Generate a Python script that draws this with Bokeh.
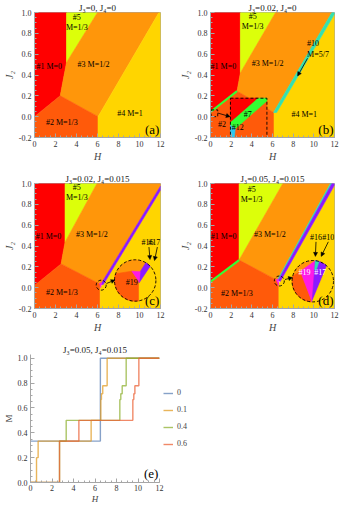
import numpy as np
from bokeh.plotting import figure
from bokeh.layouts import row, column
from bokeh.models import (Range1d, FixedTicker, PrintfTickFormatter, Label, Arrow,
                          NormalHead, Legend, LegendItem)
from bokeh.embed import file_html
from bokeh.resources import INLINE

FONT = "Liberation Serif"

# ---------------- data ----------------
H_TICKS = [0, 2, 4, 6, 8, 10, 12]
J2_TICKS = [-0.2, 0.0, 0.2, 0.4, 0.6, 0.8, 1.0]
M_TICKS = [0.0, 0.2, 0.4, 0.6, 0.8, 1.0]

C1, C2, C3, C4, C5 = "#FF0000", "#FF5A0A", "#FF960A", "#FFD500", "#DCFF0A"
C7, C10, C12, C17, C19 = "#33FF33", "#33E0B0", "#2CC8F0", "#8B1AFF", "#FF1AE6"

# panel (a)  J3=0, J4=0
A_TITLE = "J₃=0, J₄=0"
A_R1_H = [0, 3.05, 3.05, 2.45, 0];        A_R1_J = [1.0, 1.0, 0.52, 0.20, 0.0]
A_R5_H = [3.05, 6.0, 3.05];               A_R5_J = [1.0, 1.0, 0.52]
A_R3_H = [6.0, 11.85, 6.05, 2.45, 3.05];  A_R3_J = [1.0, 1.0, 0.0, 0.20, 0.52]
A_R2_H = [0, 2.45, 6.05, 6.05, 0];        A_R2_J = [0.0, 0.20, 0.0, -0.2, -0.2]
A_R4_H = [6.05, 11.85, 12, 12, 6.05];     A_R4_J = [0.0, 1.0, 1.0, -0.2, -0.2]
A_TEXT = [("#1 M=0", 1.4, 0.485), ("#5", 4.03, 0.95), ("M=1/3", 4.03, 0.853),
          ("#3 M=1/2", 5.62, 0.50), ("#2 M=1/3", 2.6, -0.06), ("#4 M=1", 9.1, 0.028)]

# panel (b)  J3=0.02, J4=0
B_TITLE = "J₃=0.02, J₄=0"
B_R1_H = [0, 2.89, 2.89, 2.57, 0];         B_R1_J = [1.0, 1.0, 0.42, 0.245, 0.045]
B_R5_H = [2.89, 6.3, 2.89];                B_R5_J = [1.0, 1.0, 0.42]
B_R3_H = [6.3, 11.75, 6.1, 2.57, 2.89];    B_R3_J = [1.0, 1.0, 0.04, 0.245, 0.42]
B_R2_H = [0, 2.57, 6.1, 6.15, 6.15, 0];    B_R2_J = [0.045, 0.245, 0.04, 0.04, -0.2, -0.2]
B_R4_H = [6.15, 6.15, 6.4, 12, 12];        B_R4_J = [-0.2, 0.04, 0.04, 0.985, -0.2]
B_R10_H = [6.1, 6.4, 12, 12, 11.75];       B_R10_J = [0.04, 0.04, 0.985, 1.0, 1.0]
B_R7_H = [0, 2.57];                        B_R7_J = [0.045, 0.245]
B_BOX_H = [1.93, 5.46];                    B_BOX_J = [-0.2, 0.177]
B_SMALL_H = [0.06, 0.7];                   B_SMALL_J = [0.0, 0.065]
B_IN_R1_U = [0, 0.76, 0];                  B_IN_R1_V = [1, 1, 0.38]
B_IN_R7_U = [0.76, 1.0, 1.0, 0.13, 0.0, 0.0]; B_IN_R7_V = [1, 1, 0.93, 0.22, 0.32, 0.38]
B_IN_R12_U = [0, 0.13, 0.11, 0];           B_IN_R12_V = [0.32, 0.22, 0, 0]
B_TEXT = [("#1 M=0", 1.25, 0.485), ("#5", 4.08, 0.958), ("M=1/3", 4.08, 0.862),
          ("#3 M=1/2", 5.53, 0.506), ("#4 M=1", 9.07, 0.022), ("#2", 1.12, -0.075),
          ("#7", 3.6, 0.02), ("#12", 2.64, -0.107)]
B_TEXT_L = [("#10", 9.35, 0.70), ("M=5/7", 9.35, 0.60)]
B_ARROWS = [(9.39, 0.56, 8.43, 0.39), (0.7, 0.035, 1.9, 0.0)]

# panel (c)  J3=0.02, J4=0.015
C_TITLE = "J₃=0.02, J₄=0.015"
C_R1_H = [0, 2.91, 2.91, 2.53, 0];         C_R1_J = [1.0, 1.0, 0.437, 0.228, 0.02]
C_R5_H = [2.91, 5.95, 2.91];               C_R5_J = [1.0, 1.0, 0.437]
C_R3_H = [5.95, 12, 12, 6.3, 2.53, 2.91];  C_R3_J = [1.0, 1.0, 0.975, 0.03, 0.228, 0.437]
C_R2_H = [0, 2.53, 6.3, 6.25, 6.25, 0];    C_R2_J = [0.02, 0.228, 0.03, 0.01, -0.2, -0.2]
C_R4_H = [6.25, 6.25, 6.55, 12, 12];       C_R4_J = [-0.2, 0.01, 0.03, 0.935, -0.2]
C_R17_H = [6.3, 6.55, 12, 12];             C_R17_J = [0.03, 0.03, 0.935, 0.975]
C_R19_H = [6.2, 6.4, 6.3];                 C_R19_J = [0.045, 0.045, 0.0]
C_SMALL = (6.35, 0.024)
C_BIG = (9.59, 0.069)
C_IN_R2 = [("a", 161, 281), ("p", 0.19, -0.06), ("p", -0.16, 0.45)]
C_IN_R4 = [("a", 281, 403.7), ("p", 0.19, -0.11)]
C_IN_R17 = [("a", 43.7, 59), ("p", 0.24, 0.42), ("p", 0.19, -0.06), ("p", 0.19, -0.11)]
C_IN_R19 = [("p", -0.16, 0.45), ("p", 0.24, 0.42), ("p", 0.19, -0.06)]
C_TEXT = [("#1 M=0", 1.33, 0.494), ("#5", 4.03, 0.964), ("M=1/3", 4.03, 0.863),
          ("#3 M=1/2", 5.46, 0.51), ("#2 M=1/3", 2.6, -0.05), ("#19", 9.27, 0.047),
          ("#16", 10.75, 0.434)]
C_TEXT_R = [("#17", 11.98, 0.434)]
C_ARROWS = [(6.86, 0.04, 7.67, 0.074), (10.9, 0.39, 11.0, 0.27), (11.7, 0.39, 11.43, 0.26)]

# panel (d)  J3=0.05, J4=0.015
D_TITLE = "J₃=0.05, J₄=0.015"
D_R1_H = [0, 2.77, 2.77, 0];                 D_R1_J = [1.0, 1.0, 0.265, 0.057]
D_R5_H = [2.77, 7.0, 2.77];                  D_R5_J = [1.0, 1.0, 0.265]
D_R3_H = [7.0, 11.6, 6.45, 2.77];            D_R3_J = [1.0, 1.0, 0.07, 0.265]
D_R2_H = [0, 2.77, 6.45, 6.62, 6.62, 0];     D_R2_J = [0.057, 0.265, 0.07, 0.04, -0.2, -0.2]
D_R4_H = [6.62, 6.62, 6.75, 12, 12];         D_R4_J = [-0.2, 0.04, 0.06, 0.985, -0.2]
D_R10_H = [6.45, 6.55, 11.75, 11.6];         D_R10_J = [0.07, 0.07, 1.0, 1.0]
D_R17_H = [6.55, 6.75, 12, 12, 11.75];       D_R17_J = [0.07, 0.06, 0.985, 1.0, 1.0]
D_R19_H = [6.35, 6.55, 6.6];                 D_R19_J = [0.08, 0.08, 0.02]
D_R7_H = [0, 2.77];                          D_R7_J = [0.057, 0.265]
D_SMALL = (6.66, 0.064)
D_BIG = (9.9, 0.062)
D_IN_R2 = [("a", 166, 268), ("p", -0.6, 0.48)]
D_IN_R19 = [("p", -0.6, 0.48), ("p", 0.12, 0.99), ("p", -0.035, -0.999)]
D_IN_R17 = [("a", 47, 83), ("p", -0.035, -0.999)]
D_IN_R4 = [("a", 268, 407)]
D_IN_R10 = [("p", 0.12, 0.99), ("p", 0.3, 0.95), ("p", 0.17, 0.55), ("p", 0.09, 0.55)]
D_TEXT = [("#1 M=0", 1.27, 0.494), ("#5", 3.98, 0.942), ("M=1/3", 3.98, 0.846),
          ("#3 M=1/2", 5.75, 0.51), ("#2 M=1/3", 2.55, -0.06), ("#16", 10.21, 0.486)]
D_TEXT_R = [("#10", 11.98, 0.486)]
D_TEXT_W = [("#19", 9.1, 0.143), ("#17", 10.63, 0.143)]
D_ARROWS = [(7.21, 0.078, 7.93, 0.098), (10.21, 0.44, 10.15, 0.30), (11.4, 0.44, 10.71, 0.30)]

# panel (e)  magnetisation curves, J3=0.05, J4=0.015
E_TITLE = "J₃=0.05, J₄=0.015"
E_LABELS = ["0", "0.1", "0.4", "0.6"]
E_COLORS = ["#5E81B5", "#E19C24", "#8FB032", "#EB6235"]
E0_H = [0, 6.5, 12];                                   E0_M = [0.333, 1.0, 1.0]
E1_H = [0, 0.56, 0.71, 5.64, 6.54, 6.6, 6.72, 7.13, 12]; E1_M = [0.0, 0.2, 0.333, 0.5, 0.667, 0.714, 0.778, 1.0, 1.0]
E2_H = [0, 2.7, 3.32, 8.31, 8.4, 8.53, 8.9, 12];        E2_M = [0.0, 0.333, 0.5, 0.667, 0.714, 0.778, 1.0, 1.0]
E3_H = [0, 2.7, 4.5, 9.52, 9.61, 9.71, 10.08, 12];      E3_M = [0.0, 0.333, 0.5, 0.667, 0.714, 0.778, 1.0, 1.0]

# ---------------- helpers ----------------
GRAY = "#A6A6A6"


def style_axis(ax, label, size="10px"):
    ax.axis_label = label
    ax.axis_line_color = GRAY
    ax.major_tick_line_color = GRAY
    ax.minor_tick_line_color = GRAY
    ax.major_tick_in = 4
    ax.major_tick_out = 0
    ax.minor_tick_in = 2
    ax.minor_tick_out = 0
    ax.major_label_text_font = FONT
    ax.major_label_text_font_size = "8px"
    ax.major_label_text_color = "#333333"
    ax.major_label_standoff = 3
    ax.axis_label_text_font = FONT
    ax.axis_label_text_font_size = size
    ax.axis_label_text_font_style = "italic"
    ax.axis_label_standoff = 1


def set_title(p, text):
    p.title.text = text
    p.title.text_font = FONT
    p.title.text_font_size = "9px"
    p.title.text_font_style = "normal"
    p.title.text_color = "#222222"
    p.title.align = "center"
    p.title.standoff = 0
    p.title.offset = 0


def phase_fig(title, fw, bl, br, bt, bb):
    p = figure(frame_width=fw, frame_height=125, x_range=Range1d(0, 12), y_range=Range1d(-0.2, 1.0),
               min_border_left=bl, min_border_right=br, min_border_top=bt, min_border_bottom=bb,
               toolbar_location=None, output_backend="svg")
    p.xgrid.grid_line_color = None
    p.ygrid.grid_line_color = None
    p.outline_line_color = GRAY
    p.xaxis.ticker = FixedTicker(ticks=H_TICKS, minor_ticks=[x / 2 for x in range(25)])
    p.yaxis.ticker = FixedTicker(ticks=J2_TICKS, minor_ticks=[-0.2 + k * 0.05 for k in range(25)])
    p.yaxis.formatter = PrintfTickFormatter(format="%.1f")
    style_axis(p.xaxis[0], "H")
    style_axis(p.yaxis[0], "J₂")
    set_title(p, title)
    return p


def regions(p, polys):
    xs = [r[0] for r in polys]
    ys = [r[1] for r in polys]
    cs = [r[2] for r in polys]
    p.patches(xs, ys, fill_color=cs, line_color=cs, line_width=0.6)


def texts(p, items, color="black", align="center", size="8px"):
    for t, x, y in items:
        p.add_layout(Label(x=x, y=y, text=t, text_font=FONT, text_font_size=size,
                           text_align=align, text_baseline="middle", text_color=color))


def arrows(p, items):
    for x0, y0, x1, y1 in items:
        p.add_layout(Arrow(end=NormalHead(size=4, line_color="black", fill_color="black", line_width=0.5),
                           x_start=x0, y_start=y0, x_end=x1, y_end=y1,
                           line_color="black", line_width=0.8))


def letter(p, t):
    p.add_layout(Label(x=11.9, y=-0.2, y_offset=1, text=t, text_font=FONT, text_font_size="13px",
                       text_align="right", text_baseline="bottom", text_color="black"))


def disk_poly(center, rx, ry, parts):
    cx, cy = center
    xs, ys = [], []
    for part in parts:
        if part[0] == "a":
            t = np.radians(np.linspace(part[1], part[2], 48))
            xs += list(cx + rx * np.cos(t))
            ys += list(cy + ry * np.sin(t))
        else:
            xs.append(cx + rx * part[1])
            ys.append(cy + ry * part[2])
    return xs, ys


def circle_inset(p, fw, small, big, layers, rpx=20.7):
    sx = fw / 12.0
    sy = 125 / 1.2
    rx, ry = rpx / sx, rpx / sy
    polys = [disk_poly(big, rx, ry, [("a", 0, 360)]) + (C3,)]
    for parts, col in layers:
        polys.append(disk_poly(big, rx, ry, parts) + (col,))
    regions(p, polys)
    p.circle(x=[small[0], big[0]], y=[small[1], big[1]], radius=[5, rpx], radius_units="screen",
             fill_alpha=0, line_color="black", line_dash="3 2", line_width=0.9)


# ---------------- panel (a) ----------------
pa = phase_fig(A_TITLE, 126, 28, 16, 10, 27)
regions(pa, [(A_R1_H, A_R1_J, C1), (A_R5_H, A_R5_J, C5), (A_R3_H, A_R3_J, C3),
             (A_R2_H, A_R2_J, C2), (A_R4_H, A_R4_J, C4)])
texts(pa, A_TEXT)
letter(pa, "(a)")

# ---------------- panel (b) ----------------
pb = phase_fig(B_TITLE, 124, 30, 13, 10, 27)
regions(pb, [(B_R1_H, B_R1_J, C1), (B_R5_H, B_R5_J, C5), (B_R3_H, B_R3_J, C3),
             (B_R2_H, B_R2_J, C2), (B_R4_H, B_R4_J, C4), (B_R10_H, B_R10_J, C10)])
pb.line(B_R7_H, B_R7_J, line_color=C7, line_width=2.2)


def box_map(u, v):
    return ([B_BOX_H[0] + a * (B_BOX_H[1] - B_BOX_H[0]) for a in u],
            [B_BOX_J[0] + b * (B_BOX_J[1] - B_BOX_J[0]) for b in v])


bx = [B_BOX_H[0], B_BOX_H[1], B_BOX_H[1], B_BOX_H[0]]
by = [B_BOX_J[0], B_BOX_J[0], B_BOX_J[1], B_BOX_J[1]]
regions(pb, [(bx, by, C2), box_map(B_IN_R1_U, B_IN_R1_V) + (C1,),
             box_map(B_IN_R7_U, B_IN_R7_V) + (C7,), box_map(B_IN_R12_U, B_IN_R12_V) + (C12,)])
pb.quad(left=[B_BOX_H[0], B_SMALL_H[0]], right=[B_BOX_H[1], B_SMALL_H[1]],
        bottom=[B_BOX_J[0], B_SMALL_J[0]], top=[B_BOX_J[1], B_SMALL_J[1]],
        fill_alpha=0, line_color="black", line_dash="3 2", line_width=0.9)
texts(pb, B_TEXT)
texts(pb, B_TEXT_L, align="left")
arrows(pb, B_ARROWS)
letter(pb, "(b)")

# ---------------- panel (c) ----------------
pc = phase_fig(C_TITLE, 126, 28, 16, 19, 25)
regions(pc, [(C_R1_H, C_R1_J, C1), (C_R5_H, C_R5_J, C5), (C_R3_H, C_R3_J, C3),
             (C_R2_H, C_R2_J, C2), (C_R4_H, C_R4_J, C4), (C_R17_H, C_R17_J, C17),
             (C_R19_H, C_R19_J, C19)])
circle_inset(pc, 126, C_SMALL, C_BIG, [(C_IN_R2, C2), (C_IN_R4, C4), (C_IN_R17, C17), (C_IN_R19, C19)])
texts(pc, C_TEXT)
texts(pc, C_TEXT_R, align="right")
arrows(pc, C_ARROWS)
letter(pc, "(c)")

# ---------------- panel (d) ----------------
pd = phase_fig(D_TITLE, 124, 30, 13, 19, 25)
regions(pd, [(D_R1_H, D_R1_J, C1), (D_R5_H, D_R5_J, C5), (D_R3_H, D_R3_J, C3),
             (D_R2_H, D_R2_J, C2), (D_R4_H, D_R4_J, C4), (D_R10_H, D_R10_J, C10),
             (D_R17_H, D_R17_J, C17), (D_R19_H, D_R19_J, C19)])
pd.line(D_R7_H, D_R7_J, line_color=C7, line_width=2.2)
circle_inset(pd, 124, D_SMALL, D_BIG, [(D_IN_R2, C2), (D_IN_R19, C19), (D_IN_R17, C17),
                                        (D_IN_R4, C4), (D_IN_R10, C10)])
texts(pd, D_TEXT)
texts(pd, D_TEXT_R, align="right")
texts(pd, D_TEXT_W, color="white")
arrows(pd, D_ARROWS)
letter(pd, "(d)")

# ---------------- panel (e) ----------------
pe = figure(frame_width=129, frame_height=128, x_range=Range1d(0, 12), y_range=Range1d(0, 1.03),
            min_border_left=27, min_border_right=10, min_border_top=19, min_border_bottom=20,
            toolbar_location=None, output_backend="svg")
pe.xgrid.grid_line_color = None
pe.ygrid.grid_line_color = None
pe.outline_line_color = None
pe.xaxis.ticker = FixedTicker(ticks=H_TICKS, minor_ticks=[x / 2 for x in range(25)])
pe.yaxis.ticker = FixedTicker(ticks=M_TICKS, minor_ticks=[k * 0.05 for k in range(21)])
pe.yaxis.formatter = PrintfTickFormatter(format="%.1f")
style_axis(pe.xaxis[0], "H", size="9px")
style_axis(pe.yaxis[0], "M", size="9px")
pe.yaxis[0].axis_label_text_font_style = "normal"
pe.xaxis[0].major_label_standoff = 2
pe.xaxis[0].axis_label_standoff = 0
set_title(pe, E_TITLE)

items = []
for hs, ms, lab, col in [(E0_H, E0_M, E_LABELS[0], E_COLORS[0]), (E1_H, E1_M, E_LABELS[1], E_COLORS[1]),
                         (E2_H, E2_M, E_LABELS[2], E_COLORS[2]), (E3_H, E3_M, E_LABELS[3], E_COLORS[3])]:
    r = pe.step(hs, ms, mode="after", line_color=col, line_width=1.4, line_alpha=0.75)
    items.append(LegendItem(label=lab, renderers=[r]))
leg = Legend(items=items, location="center_left", glyph_width=10, glyph_height=8, label_height=8,
             spacing=8, label_standoff=4, padding=2, margin=2, label_text_font=FONT,
             label_text_font_size="8px", label_text_color="#444444",
             border_line_alpha=0, background_fill_alpha=0)
pe.add_layout(leg, "right")
pe.add_layout(Label(x=11.9, y=0.0, y_offset=2, text="(e)", text_font=FONT, text_font_size="13px",
                    text_align="right", text_baseline="bottom", text_color="black"))

layout = column(row(pa, pb), row(pc, pd), pe)
open("out.html", "w").write(file_html(layout, INLINE))
